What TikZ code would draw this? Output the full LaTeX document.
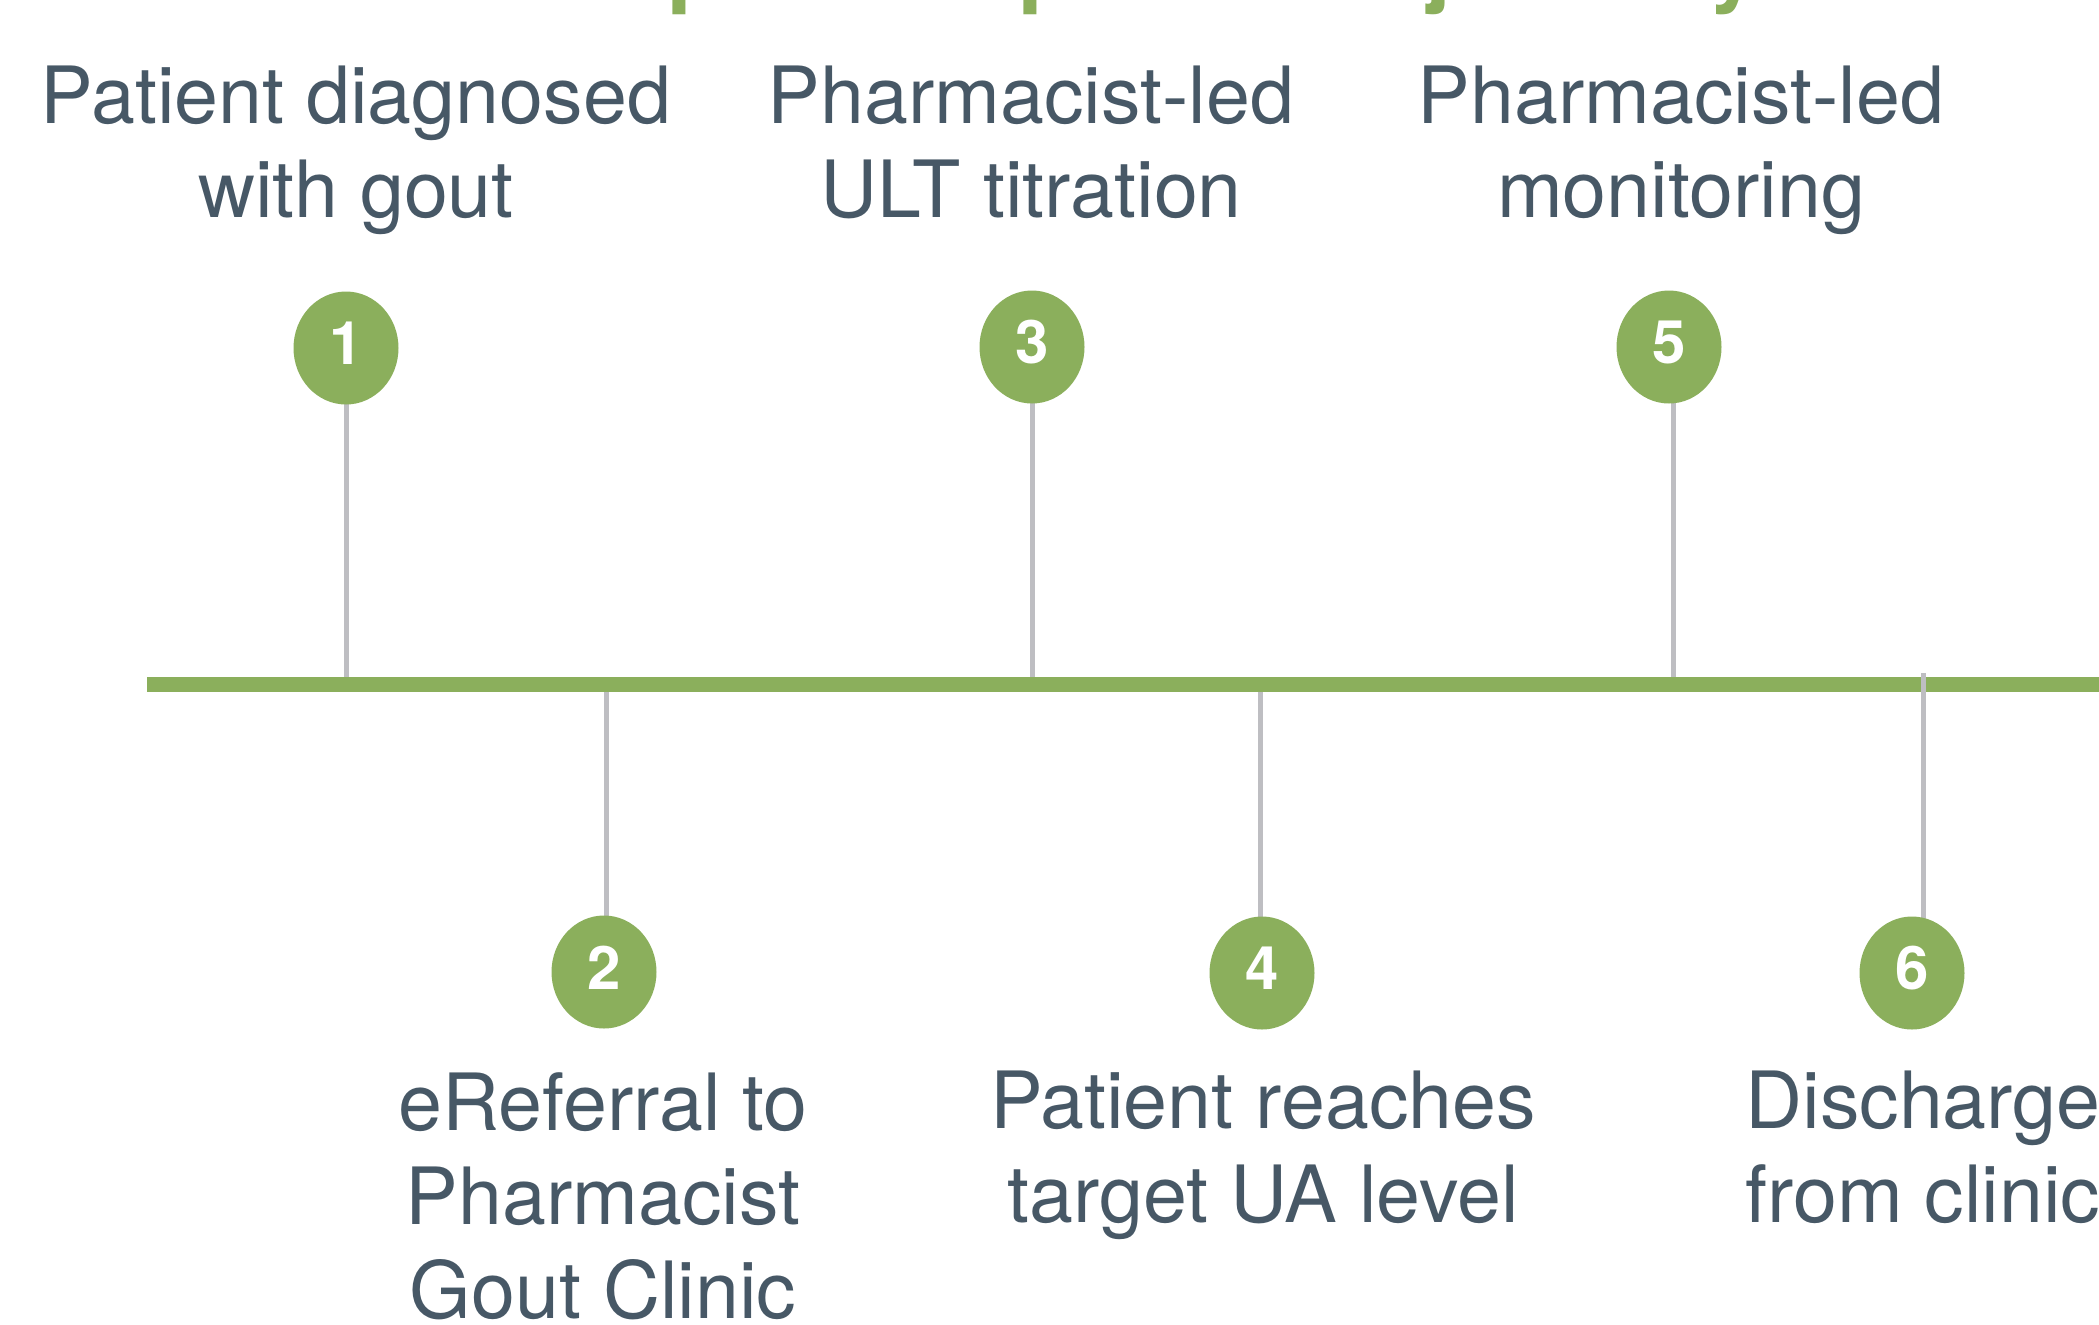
\documentclass[tikz,border=0pt]{standalone}
\usepackage{fontspec}
\setmainfont{TeX Gyre Heros}
\usetikzlibrary{shapes.geometric}
\definecolor{tlgreen}{HTML}{8BAF5C}
\definecolor{stemgray}{HTML}{BEBEC2}
\definecolor{txtcol}{HTML}{475866}
\pgfdeclarelayer{stemlayer}
\pgfdeclarelayer{barlayer}
\pgfdeclarelayer{topstem}
\pgfsetlayers{stemlayer,barlayer,topstem,main}
\begin{document}
\begin{tikzpicture}[x=0.5pt,y=-0.5pt,
  tldot/.style={ellipse, fill=tlgreen, minimum width=52.5pt, minimum height=56.5pt, inner sep=0pt},
  tlnum/.style={text=white, font=\bfseries\fontsize{30}{30}\selectfont, inner sep=0pt},
  tllbl/.style={text=txtcol, font=\fontsize{39.5}{47}\selectfont, align=center, inner sep=0pt, anchor=base},
  tlstem/.style={draw=stemgray, line width=2.5pt},
  tlbar/.style={draw=tlgreen, line width=7.5pt},
  tlttl/.style={text=tlgreen, font=\bfseries\fontsize{46.5}{50}\selectfont, inner sep=0pt, anchor=base west}]
\useasboundingbox (0,0) rectangle (2099,1324);
\clip (0,0) rectangle (2099,1324);

% title (cut off by the top edge)
\node[tlttl] (title) at (419,-6) {Example of a patient's journey};

% step markers
\node[tldot] (c1) at (346,348) {};
\node[tldot] (c3) at (1032,347) {};
\node[tldot] (c5) at (1669,347) {};
\node[tldot] (c2) at (604,972) {};
\node[tldot] (c4) at (1262,973) {};
\node[tldot] (c6) at (1912,973) {};
\node[tlnum] (n1) at ([yshift=2.25pt]c1.center) {1};
\node[tlnum] (n2) at ([yshift=2.25pt]c2.center) {2};
\node[tlnum] (n3) at ([yshift=2.25pt]c3.center) {3};
\node[tlnum] (n4) at ([yshift=2.25pt]c4.center) {4};
\node[tlnum] (n5) at ([yshift=2.25pt]c5.center) {5};
\node[tlnum] (n6) at ([yshift=2.25pt]c6.center) {6};

% points on the timeline
\coordinate (b1) at (346,684);
\coordinate (b2) at (606,684);
\coordinate (b3) at (1032,684);
\coordinate (b4) at (1260,684);
\coordinate (b5) at (1673,684);
\coordinate (b6) at (1923,673);
\coordinate (barL) at (147,684.5);
\coordinate (barR) at (2120,684.5);

\begin{pgfonlayer}{stemlayer}
\draw[tlstem] (b1) -- (b1 |- c1.center);
\draw[tlstem] (b3) -- (b3 |- c3.center);
\draw[tlstem] (b5) -- (b5 |- c5.center);
\draw[tlstem] (b2) -- (b2 |- c2.center);
\draw[tlstem] (b4) -- (b4 |- c4.center);
\end{pgfonlayer}
\begin{pgfonlayer}{barlayer}
\draw[tlbar] (barL) -- (barR);
\end{pgfonlayer}
\begin{pgfonlayer}{topstem}
\draw[tlstem] (b6) -- (b6 |- c6.center);
\end{pgfonlayer}

% labels (anchored at the baseline of their last line)
\node[tllbl] (t1) at (356,217) {Patient diagnosed\\with gout};
\node[tllbl] (t3) at (1031,217) {Pharmacist-led\\ULT titration};
\node[tllbl] (t5) at (1681,217) {Pharmacist-led\\monitoring};
\node[tllbl] (t2) at (603,1318) {eReferral to\\Pharmacist\\Gout Clinic};
\node[tllbl] (t4) at (1263,1222) {Patient reaches\\target UA level};
\node[tllbl] (t6) at (1923,1222) {Discharge\\from clinic};
\end{tikzpicture}
\end{document}
